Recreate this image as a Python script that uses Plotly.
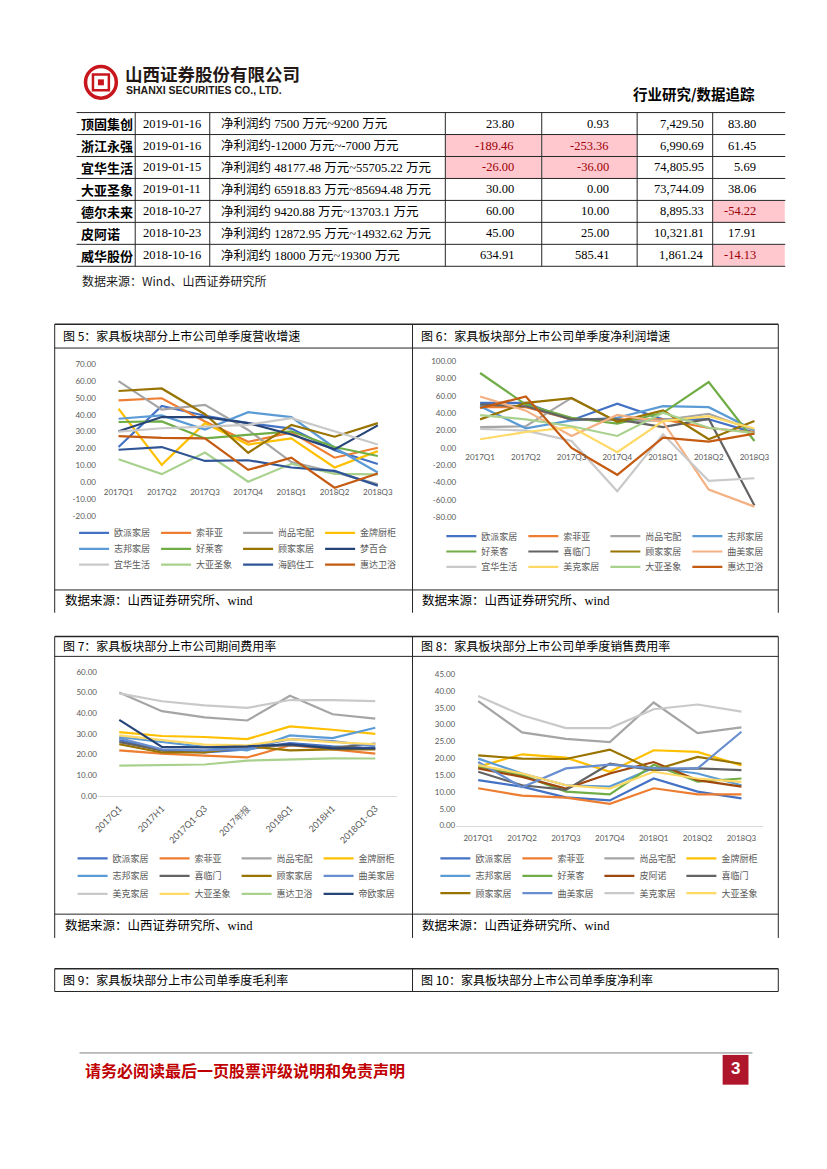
import plotly.graph_objects as go

W, H = 827, 1169


def fx(x):
    return x / W


def fy(y):
    return 1 - y / H


# ---------------------------------------------------------------- data
# table (业绩预告)
tbl_names = ["顶固集创", "浙江永强", "宜华生活", "大亚圣象", "德尔未来", "皮阿诺", "威华股份"]
tbl_dates = ["2019-01-16", "2019-01-16", "2019-01-15", "2019-01-11",
             "2018-10-27", "2018-10-23", "2018-10-16"]
tbl_desc = ["净利润约 7500 万元~9200 万元",
            "净利润约-12000 万元~-7000 万元",
            "净利润约 48177.48 万元~55705.22 万元",
            "净利润约 65918.83 万元~85694.48 万元",
            "净利润约 9420.88 万元~13703.1 万元",
            "净利润约 12872.95 万元~14932.62 万元",
            "净利润约 18000 万元~19300 万元"]
tbl_growth_up = [23.80, -189.46, -26.00, 30.00, 60.00, 45.00, 634.91]
tbl_growth_low = [0.93, -253.36, -36.00, 0.00, 10.00, 25.00, 585.41]
tbl_prev_profit = [7429.50, 6990.69, 74805.95, 73744.09, 8895.33, 10321.81, 1861.24]
tbl_prev_growth = [83.80, 61.45, 5.69, 38.06, -54.22, 17.91, -14.13]

quarters = ["2017Q1", "2017Q2", "2017Q3", "2017Q4", "2018Q1", "2018Q2", "2018Q3"]
periods = ["2017Q1", "2017H1", "2017Q1-Q3", "2017年报", "2018Q1", "2018H1", "2018Q1-Q3"]

# 图5 单季度营收增速
rev_names = ["欧派家居", "索菲亚", "尚品宅配", "金牌厨柜", "志邦家居", "好莱客",
             "顾家家居", "梦百合", "宜华生活", "大亚圣象", "海鸥住工", "惠达卫浴"]
rev_values = [
    [20.9, 45.2, 39.4, 35.0, 31.8, 19.0, 10.9],
    [48.5, 49.7, 36.0, 24.0, 29.6, 14.6, 20.5],
    [59.8, 43.0, 45.8, 31.0, 12.0, 6.0, -1.0],
    [43.5, 10.4, 35.0, 22.4, 26.0, 8.8, 18.5],
    [37.6, 39.6, 31.2, 41.5, 38.6, 20.5, 5.9],
    [35.7, 36.0, 26.0, 28.0, 30.2, 20.9, 15.6],
    [54.0, 55.5, 40.3, 17.5, 34.0, 27.0, 35.0],
    [30.2, 38.6, 38.6, 35.0, 28.3, 19.5, 33.7],
    [30.0, 32.0, 33.0, 34.0, 38.0, 30.0, 22.4],
    [13.7, 4.9, 17.6, 0.4, 11.0, 5.0, 4.8],
    [19.3, 20.9, 12.7, 13.1, 8.8, 6.8, -1.9],
    [27.3, 26.3, 26.0, 7.4, 14.6, -3.1, 5.3],
]

# 图6 单季度净利润增速
np_names = ["欧派家居", "索菲亚", "尚品宅配", "志邦家居", "好莱客", "喜临门",
            "顾家家居", "曲美家居", "宜华生活", "美克家居", "大亚圣象", "惠达卫浴"]
np_values = [
    [52.0, 52.0, 32.0, 51.0, 33.0, 33.0, 17.6],
    [47.0, 47.0, 33.0, 33.0, 33.0, 23.0, 18.0],
    [24.0, 25.0, 57.7, 30.0, 32.0, 39.4, 20.0],
    [48.0, 22.6, 31.7, 34.8, 48.2, 47.0, 20.3],
    [86.4, 50.0, 34.8, 28.0, 40.5, 76.0, 8.0],
    [50.0, 48.0, 33.0, 33.0, 24.0, 33.6, -66.5],
    [32.9, 52.0, 57.4, 30.2, 43.2, 10.0, 31.0],
    [59.3, 43.0, 13.8, 38.0, 30.0, -48.0, -67.7],
    [22.0, 20.0, 8.0, -50.0, 15.7, -37.9, -35.0],
    [10.0, 18.4, 24.0, -5.0, 31.0, 36.7, 22.2],
    [37.9, 33.0, 25.0, 13.8, 40.5, 23.3, 17.0],
    [46.0, 59.3, 0.0, -31.0, 11.9, 7.3, 16.4],
]

# 图7 期间费用率
exp_names = ["欧派家居", "索菲亚", "尚品宅配", "金牌厨柜", "志邦家居", "喜临门",
             "顾家家居", "曲美家居", "美克家居", "大亚圣象", "惠达卫浴", "帝欧家居"]
exp_values = [
    [27.0, 22.0, 21.0, 22.5, 25.5, 24.0, 23.0],
    [22.0, 20.5, 19.5, 18.6, 24.5, 22.6, 20.5],
    [50.0, 41.0, 38.0, 36.5, 48.5, 39.5, 37.4],
    [30.9, 29.0, 28.5, 27.5, 33.6, 32.0, 30.0],
    [28.5, 26.0, 23.7, 22.0, 29.3, 28.0, 33.0],
    [26.0, 22.0, 21.4, 23.5, 24.5, 23.2, 25.3],
    [25.0, 21.0, 21.0, 24.0, 22.0, 22.5, 22.5],
    [28.0, 22.5, 22.0, 23.0, 27.5, 26.5, 24.0],
    [49.6, 45.8, 43.8, 42.6, 46.4, 46.4, 45.9],
    [29.3, 26.9, 24.8, 24.5, 27.5, 26.0, 25.0],
    [14.6, 15.0, 15.2, 17.1, 17.6, 18.2, 18.1],
    [36.8, 23.7, 23.5, 24.0, 25.0, 23.0, 23.0],
]

# 图8 单季度销售费用率
sell_names = ["欧派家居", "索菲亚", "尚品宅配", "金牌厨柜", "志邦家居", "好莱客",
              "皮阿诺", "喜临门", "顾家家居", "曲美家居", "美克家居", "大亚圣象"]
sell_values = [
    [13.5, 11.6, 8.4, 7.5, 14.0, 10.1, 8.1],
    [11.1, 8.9, 8.3, 6.5, 11.1, 9.3, 9.3],
    [37.0, 27.7, 25.8, 24.8, 36.6, 27.5, 29.2],
    [17.5, 21.2, 20.2, 16.0, 22.4, 21.9, 17.9],
    [19.9, 15.5, 12.0, 11.6, 17.2, 15.5, 12.0],
    [17.5, 15.0, 10.1, 9.3, 18.1, 13.1, 14.0],
    [17.0, 14.5, 11.0, 15.5, 18.9, 13.5, 11.6],
    [16.0, 12.0, 10.6, 18.4, 16.5, 17.0, 16.5],
    [20.9, 19.9, 19.8, 22.6, 16.5, 20.4, 18.4],
    [18.9, 11.4, 17.0, 18.1, 17.0, 17.0, 27.9],
    [38.5, 32.8, 29.0, 29.0, 34.6, 36.0, 33.9],
    [18.0, 15.5, 12.0, 11.0, 16.0, 14.0, 13.0],
]

# ---------------------------------------------------------------- styles
col5 = {"欧派家居": "#4472C4", "索菲亚": "#ED7D31", "尚品宅配": "#A5A5A5", "金牌厨柜": "#FFC000",
        "志邦家居": "#5B9BD5", "好莱客": "#70AD47", "顾家家居": "#997300", "梦百合": "#264478",
        "宜华生活": "#C9C9C9", "大亚圣象": "#A9D18E", "海鸥住工": "#2F5597", "惠达卫浴": "#C55A11"}
col6 = {"欧派家居": "#4472C4", "索菲亚": "#ED7D31", "尚品宅配": "#A5A5A5", "志邦家居": "#5B9BD5",
        "好莱客": "#70AD47", "喜临门": "#636363", "顾家家居": "#997300", "曲美家居": "#F4B183",
        "宜华生活": "#C9C9C9", "美克家居": "#FFD966", "大亚圣象": "#A9D18E", "惠达卫浴": "#C55A11"}
col7 = {"欧派家居": "#4472C4", "索菲亚": "#ED7D31", "尚品宅配": "#A5A5A5", "金牌厨柜": "#FFC000",
        "志邦家居": "#5B9BD5", "喜临门": "#636363", "顾家家居": "#997300", "曲美家居": "#698ED0",
        "美克家居": "#C9C9C9", "大亚圣象": "#FFD966", "惠达卫浴": "#A9D18E", "帝欧家居": "#264478"}
col8 = {"欧派家居": "#4472C4", "索菲亚": "#ED7D31", "尚品宅配": "#A5A5A5", "金牌厨柜": "#FFC000",
        "志邦家居": "#5B9BD5", "好莱客": "#70AD47", "皮阿诺": "#9E480E", "喜临门": "#636363",
        "顾家家居": "#997300", "曲美家居": "#698ED0", "美克家居": "#C9C9C9", "大亚圣象": "#FFD966"}

CJK = "Noto Sans CJK SC"
SERIF = "Liberation Serif, Noto Sans CJK SC"
TICK_FONT = dict(family="Lato, Liberation Sans", size=8, color="#595959")
LEG_FONT = dict(family=CJK, size=9, color="#595959")
LINE_COL = "#262626"

fig = go.Figure()
shapes = []
annos = []


def hline(x0, x1, y, w=1.0, color=LINE_COL):
    shapes.append(dict(type="line", xref="paper", yref="paper", x0=fx(x0), x1=fx(x1),
                       y0=fy(y), y1=fy(y), line=dict(color=color, width=w)))


def vline(x, y0, y1, w=1.0, color=LINE_COL):
    shapes.append(dict(type="line", xref="paper", yref="paper", x0=fx(x), x1=fx(x),
                       y0=fy(y0), y1=fy(y1), line=dict(color=color, width=w)))


def text(x, y, s, size=12, family=CJK, color="#000000", anchor="left"):
    annos.append(dict(xref="paper", yref="paper", x=fx(x), y=fy(y), text=s, showarrow=False,
                      xanchor=anchor, yanchor="middle", font=dict(family=family, size=size, color=color)))


# ---------------------------------------------------------------- header
shapes.append(dict(type="circle", xref="paper", yref="paper", x0=fx(81), x1=fx(112),
                   y0=fy(94), y1=fy(62), line=dict(color="#C8161D", width=3.5)))
shapes.append(dict(type="rect", xref="paper", yref="paper", x0=fx(88.5), x1=fx(104.5),
                   y0=fy(86), y1=fy(70), line=dict(color="#C8161D", width=2.5)))
shapes.append(dict(type="rect", xref="paper", yref="paper", x0=fx(93.5), x1=fx(99.5),
                   y0=fy(81), y1=fy(75), fillcolor="#C8161D", line=dict(width=0)))
text(119, 69, "<b>山西证券股份有限公司</b>", size=17.5, color="#231815")
text(120, 86, "<b>SHANXI SECURITIES CO., LTD.</b>", size=10.5, family="Liberation Sans", color="#231815")
text(757, 89, "<b>行业研究/数据追踪</b>", size=14.5, anchor="right")

# ---------------------------------------------------------------- table
col_edges = [66, 131, 206, 443, 540, 636, 712, 785]
num_text_right = [514, 610, 705, 758]
row_top, row_h = 108.5, 22.15
n_rows = len(tbl_names)
table_bottom = row_top + n_rows * row_h

num_cols = [tbl_growth_up, tbl_growth_low, tbl_prev_profit, tbl_prev_growth]
for r in range(n_rows):
    yc = row_top + (r + 0.5) * row_h
    text(col_edges[0] + 8, yc, "<b>%s</b>" % tbl_names[r], size=13)
    text((col_edges[1] + col_edges[2]) / 2, yc, tbl_dates[r], size=12.5, family=SERIF, anchor="center")
    text(col_edges[2] + 9, yc, tbl_desc[r], size=12.5, family=SERIF)
    for c, col in enumerate(num_cols):
        v = col[r]
        left, right = col_edges[3 + c], col_edges[4 + c]
        neg = v < 0 and c != 2
        if neg:
            shapes.append(dict(type="rect", xref="paper", yref="paper", layer="below",
                               x0=fx(left + 0.5), x1=fx(right - 0.5),
                               y0=fy(row_top + (r + 1) * row_h - 0.5), y1=fy(row_top + r * row_h + 0.5),
                               fillcolor="#FFC7CE", line=dict(width=0)))
        text(num_text_right[c], yc, f"{v:,.2f}", size=12.5, family=SERIF,
             color="#9C0006" if neg else "#000000", anchor="right")

for r in range(n_rows + 1):
    hline(72, 785, row_top + r * row_h)
for e in col_edges[1:-1]:
    vline(e, row_top, table_bottom)
text(75, 278, "数据来源：Wind、山西证券研究所", size=12, color="#1a1a1a")


# ---------------------------------------------------------------- figure boxes
def box(top, title_bot, chart_bot, bottom, titles, with_source=True):
    hline(50, 778, top, w=1.5)
    hline(50, 778, title_bot)
    if chart_bot is not None:
        hline(50, 778, chart_bot)
    for x in (50, 410, 778):
        vline(x, top, bottom)
    text(56, (top + title_bot) / 2 - 1, titles[0], size=12)
    text(416.5, (top + title_bot) / 2 - 1, titles[1], size=12)
    if with_source:
        for x in (58, 418):
            text(x, (chart_bot + bottom) / 2 - 1, "数据来源：山西证券研究所、wind", size=12.5,
                 family="Liberation Serif, " + CJK)


box(322, 346, 590, 613, ["图 5：家具板块部分上市公司单季度营收增速", "图 6：家具板块部分上市公司单季度净利润增速"])
box(637, 657, 917, 941, ["图 7：家具板块部分上市公司期间费用率", "图 8：家具板块部分上市公司单季度销售费用率"])
box(972, 995, None, 995, ["图 9：家具板块部分上市公司单季度毛利率", "图 10：家具板块部分上市公司单季度净利率"],
    with_source=False)


# ---------------------------------------------------------------- charts
legend_layouts = {}


def add_chart(k, cats, names, values, colors, xdom, ydom, yrange, dtick, leg_rows, leg_cx,
              x_at_zero=None, tickangle=0, axis_line=False, xtick_size=8, xstandoff=2):
    sfx = "" if k == 1 else str(k)
    for i, (n, v) in enumerate(zip(names, values)):
        li = 3 * (k - 1) + i // 4 + 1
        lname = "legend" if li == 1 else f"legend{li}"
        fig.add_trace(go.Scatter(x=cats, y=v, name=n, mode="lines",
                                 line=dict(color=colors[n], width=2.2),
                                 xaxis="x" + sfx, yaxis="y" + sfx, legend=lname,
                                 hoverinfo="skip"))
    for r, ry in enumerate(leg_rows):
        li = 3 * (k - 1) + r + 1
        lname = "legend" if li == 1 else f"legend{li}"
        legend_layouts[lname] = dict(orientation="h", x=fx(leg_cx), xanchor="center",
                                     y=fy(ry), yanchor="middle", font=LEG_FONT,
                                     bgcolor="rgba(0,0,0,0)", itemwidth=30,
                                     entrywidth=37, entrywidthmode="pixels",
                                     itemclick=False, itemdoubleclick=False)
    tickvals = []
    t = yrange[0]
    while t <= yrange[1] + 1e-9:
        tickvals.append(round(t, 6))
        t += dtick
    xa = dict(domain=[fx(xdom[0]), fx(xdom[1])], type="category", categoryorder="array",
              categoryarray=cats, range=[-0.5, len(cats) - 0.5], showgrid=False, zeroline=False,
              ticks="", tickfont=dict(TICK_FONT, size=xtick_size), tickangle=tickangle,
              fixedrange=True, showline=axis_line, linecolor="#D9D9D9", linewidth=1,
              ticklabelstandoff=xstandoff)
    if x_at_zero is not None:
        xa.update(anchor="free", position=fy(x_at_zero))
    else:
        xa.update(anchor="y" + sfx)
    ya = dict(domain=[fy(ydom[0]), fy(ydom[1])], range=yrange, showgrid=False, zeroline=False,
              tickvals=tickvals, ticktext=[f"{v:.2f}" for v in tickvals], tickfont=TICK_FONT,
              ticks="", anchor="x" + sfx, fixedrange=True, showline=False)
    fig.layout["xaxis" + sfx] = xa
    fig.layout["yaxis" + sfx] = ya


add_chart(1, quarters, rev_names, rev_values, col5, (92.5, 396.8), (515.7, 362.0), [-20, 70], 10,
          (532.5, 548.5, 564.5), 234.5, x_at_zero=481.7, xstandoff=3)
add_chart(2, quarters, np_names, np_values, col6, (455.0, 777.0), (516.7, 359.3), [-80, 100], 20,
          (535.7, 551.2, 566.7), 604, x_at_zero=447.0, xstandoff=3)
add_chart(3, periods, exp_names, exp_values, col7, (93.5, 394.0), (797.7, 672.7), [0, 60], 10,
          (860.7, 878.3, 896.5), 233, tickangle=-45, axis_line=True, xtick_size=9, xstandoff=3)
add_chart(4, quarters, sell_names, sell_values, col8, (454.0, 763.0), (827.7, 675.0), [0, 45], 5,
          (860.7, 878.3, 895.7), 598, axis_line=True, xstandoff=5)

# ---------------------------------------------------------------- footer
hline(75, 752, 1057, w=1, color="#7F7F7F")
text(78, 1074, "<b>请务必阅读最后一页股票评级说明和免责声明</b>", size=16, color="#C00000")
shapes.append(dict(type="rect", xref="paper", yref="paper", x0=fx(722), x1=fx(748),
                   y0=fy(1089), y1=fy(1059), fillcolor="#B0162B", line=dict(width=0)))
text(735, 1073, "<b>3</b>", size=17, family="Liberation Sans", color="#FFFFFF", anchor="center")

fig.update_layout(width=W, height=H, margin=dict(l=0, r=0, t=0, b=0),
                  paper_bgcolor="white", plot_bgcolor="rgba(0,0,0,0)",
                  showlegend=True, shapes=shapes, annotations=annos, hovermode=False,
                  **legend_layouts)

fig.write_html("out.html", config={"displayModeBar": False, "displaylogo": False},
               post_script="document.body.style.margin='0px';document.body.style.overflow='hidden';")
